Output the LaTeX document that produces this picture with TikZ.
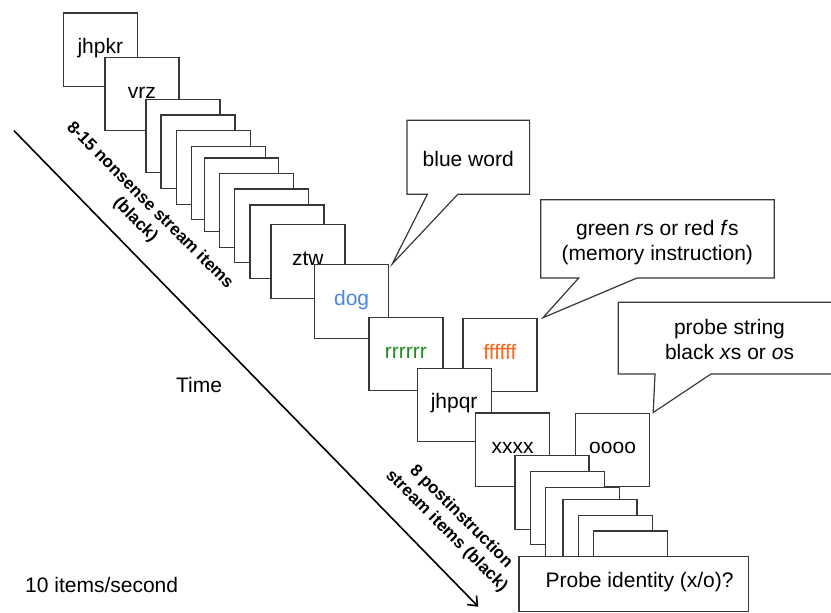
\documentclass[tikz,border=0pt]{standalone}
\usepackage{fontspec}
\setmainfont{Liberation Sans}
\usetikzlibrary{arrows.meta}
\definecolor{wordblue}{RGB}{74,134,232}
\definecolor{instrgreen}{RGB}{34,139,34}
\definecolor{instrorange}{RGB}{255,102,26}
\definecolor{edgegray}{RGB}{55,55,55}
\begin{document}
\begin{tikzpicture}[x=1pt,y=-1pt,
  card/.style={draw=edgegray, fill=white, line width=1.2pt,
    minimum width=74pt, minimum height=73.5pt, inner sep=0pt,
    anchor=north west, text height=0.8em, text depth=0pt,
    font=\fontsize{21}{25}\selectfont},
  bubble/.style={draw=edgegray, fill=white, line width=1.2pt, line join=miter},
  bubbletext/.style={align=center, inner sep=0pt, font=\fontsize{21}{25}\selectfont},
  plain/.style={inner sep=0pt, font=\fontsize{21}{25}\selectfont},
  streamlabel/.style={rotate=-45, align=center, inner sep=0pt,
    font=\bfseries\fontsize{17}{20.5}\selectfont},
  timeline/.style={line width=1.6pt, -{Straight Barb[length=8pt,width=13pt,line width=1.6pt]}}
]
\useasboundingbox (0,0) rectangle (831,613);
\clip (0,0) rectangle (831,613);

% time axis
\coordinate (t0) at (14,130.7);
\coordinate (t1) at (478.3,606.7);
\draw[timeline] (t0) -- (t1);

% nonsense stream
\node[card] (s1) at (62.7,12.3) {jhpkr};
\node[card] (s2) at (104.3,56.7) {vrz};
\node[card] (s3) at (145.3,98.7) {};
\node[card] (s4) at (160.3,114.3) {};
\node[card] (s5) at (175.7,130) {};
\node[card] (s6) at (190.7,145.7) {};
\node[card] (s7) at (203.7,157.3) {};
\node[card] (s8) at (218.7,173) {};
\node[card] (s9) at (234,188.3) {};
\node[card] (s10) at (249.3,204.3) {};
\node[card] (s11) at (270.3,224) {ztw};
\node[card, text=wordblue] (dog) at (314,264) {dog};

% memory instruction
\node[card, text=instrgreen] (rr) at (368.3,316.7) {rrrrrr};
\node[card, text=instrorange] (ff) at (462.3,317.7) {ffffff};
\node[card] (jq) at (416.5,367.5) {jhpqr};

% probe strings
\node[card] (xx) at (475,412.3) {xxxx};
\node[card] (oo) at (575,412.5) {oooo};

% postinstruction stream
\node[card] (p1) at (514.3,455) {};
\node[card] (p2) at (529.7,470.7) {};
\node[card] (p3) at (544.7,486.7) {};
\node[card] (p4) at (562.3,499) {};
\node[card] (p5) at (577.7,514.7) {};
\node[card] (p6) at (593,530.3) {};
\node[card, minimum width=229.4pt, minimum height=55.3pt, text height=0.64em]
  (probe) at (518.3,555.7) {\hspace*{12pt}Probe identity (x/o)?};

% speech bubbles
\draw[bubble] (407,120.3) -- (529.6,120.3) -- (529.6,194.3) -- (457.8,194.3)
  -- ([xshift=3pt]dog.north east) -- (427.4,194.3) -- (407,194.3) -- cycle;
\node[bubbletext, anchor=base] (cblue) at (468.2,166.7) {blue word};

\draw[bubble] (540.8,199.7) -- (774.2,199.7) -- (774.2,278) -- (637,278)
  -- ([xshift=5.5pt]ff.north east) -- (578.7,278) -- (540.8,278) -- cycle;
\node[bubbletext] (cmem) at (657.3,243) {green \textit{r}s or red \textit{f}s\\(memory instruction)};

\draw[bubble] (618.3,302.3) -- (845,302.3) -- (845,374) -- (711,374)
  -- ([xshift=3pt]oo.north east) -- (655,374) -- (618.3,374) -- cycle;
\node[bubbletext] (cprobe) at (729.5,339) {probe string\\black \textit{x}s or \textit{o}s};

% labels
\node[streamlabel] (lab1) at (142.5,212.9) {8-15 nonsense stream items\\(black)};
\node[streamlabel] (lab2) at (453.7,523.9) {8 postinstruction\\stream items (black)};
\node[plain, anchor=base] (time) at (199,392.7) {Time};
\node[plain, anchor=base west] (rate) at (25,592.7) {10 items/second};
\end{tikzpicture}
\end{document}
